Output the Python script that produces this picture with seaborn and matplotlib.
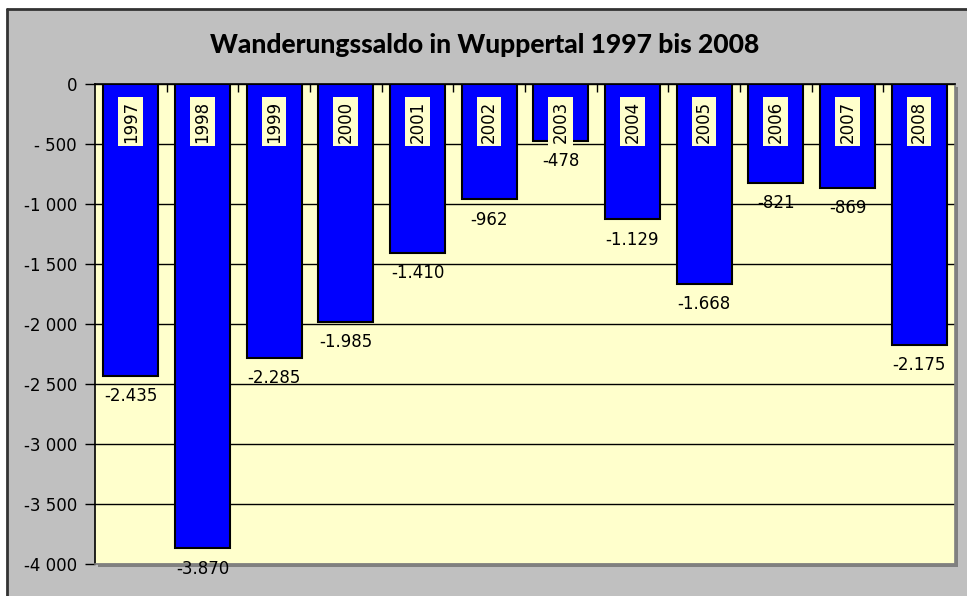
import matplotlib
matplotlib.use("Agg")
import matplotlib.pyplot as plt
import seaborn as sns
import pandas as pd
from matplotlib.patches import Rectangle
from matplotlib.lines import Line2D

years = ["1997", "1998", "1999", "2000", "2001", "2002", "2003", "2004", "2005", "2006", "2007", "2008"]
saldo = [-2435, -3870, -2285, -1985, -1410, -962, -478, -1129, -1668, -821, -869, -2175]
value_labels = ["-2.435", "-3.870", "-2.285", "-1.985", "-1.410", "-962", "-478", "-1.129", "-1.668", "-821", "-869", "-2.175"]
ytick_vals = [0, -500, -1000, -1500, -2000, -2500, -3000, -3500, -4000]
ytick_labels = ["0", "- 500", "-1 000", "-1 500", "-2 000", "-2 500", "-3 000", "-3 500", "-4 000"]
title = "Wanderungssaldo in Wuppertal 1997 bis 2008"

sns.set_theme(style="white")
plt.rcParams['font.family'] = ['DejaVu Sans']

W, H = 967, 596
fig = plt.figure(figsize=(W / 100, H / 100), dpi=100, facecolor="white")

# chart area background
fig.patches.append(Rectangle((7 / W, 0), 1 - 7 / W, (H - 9) / H, transform=fig.transFigure,
                             facecolor="#C0C0C0", edgecolor="none", zorder=-3))
fig.lines.append(Line2D([7 / W, 1], [(H - 9) / H] * 2, transform=fig.transFigure, color="#333333", lw=2, zorder=-2))
fig.lines.append(Line2D([7 / W] * 2, [0, (H - 9) / H], transform=fig.transFigure, color="#333333", lw=2, zorder=-2))

left, right, top, bottom = 95, 955, 84, 564
ax_rect = [left / W, (H - bottom) / H, (right - left) / W, (bottom - top) / H]
# shadow
fig.patches.append(Rectangle((ax_rect[0] + 3 / W, ax_rect[1] - 3 / H), ax_rect[2], ax_rect[3],
                             transform=fig.transFigure, facecolor="#808080", edgecolor="none", zorder=-1))
ax = fig.add_axes(ax_rect)
ax.set_facecolor("#FFFFCC")

df = pd.DataFrame({"Jahr": years, "Saldo": saldo})
sns.barplot(data=df, x="Jahr", y="Saldo", color="#0000FF", saturation=1, width=0.77,
            edgecolor="black", linewidth=1.5, ax=ax, zorder=2)

ax.set_ylim(-4000, 0)
ax.set_xlim(-0.5, len(years) - 0.5)
ax.set_yticks(ytick_vals)
ax.set_yticklabels(ytick_labels, fontsize=12, color="black")
ax.tick_params(axis="y", direction="out", length=7, width=1, color="black", pad=6, left=True)
ax.grid(axis="y", color="black", lw=1, zorder=1)
ax.set_axisbelow(True)
ax.set_xlabel("")
ax.set_ylabel("")

# x axis at top with category boundary ticks
ax.xaxis.tick_top()
ax.set_xticks([i + 0.5 for i in range(len(years) - 1)])
ax.set_xticklabels([])
ax.tick_params(axis="x", direction="in", length=6, width=1, color="black", top=True, bottom=False)

for s in ["top", "left"]:
    ax.spines[s].set_color("black")
    ax.spines[s].set_linewidth(1.2)
for s in ["right", "bottom"]:
    ax.spines[s].set_color("#808080")
    ax.spines[s].set_linewidth(1.2)

for i, (y, v, lab) in enumerate(zip(years, saldo, value_labels)):
    ax.text(i, -312, y, rotation=90, ha="center", va="center", fontsize=12, color="black",
            bbox=dict(boxstyle="square,pad=0.2", facecolor="#FFFFCC", edgecolor="none"), zorder=5)
    ax.annotate(lab, (i, v), xytext=(0, -8), textcoords="offset points", ha="center", va="top",
                fontsize=12, color="black", zorder=5)

fig.text(485 / W, 1 - 45 / H, title, ha="center", va="center", fontsize=19, fontweight="black",
         family=["Lato", "DejaVu Sans"], color="black")

fig.savefig("out.png", dpi=100, facecolor="white")
